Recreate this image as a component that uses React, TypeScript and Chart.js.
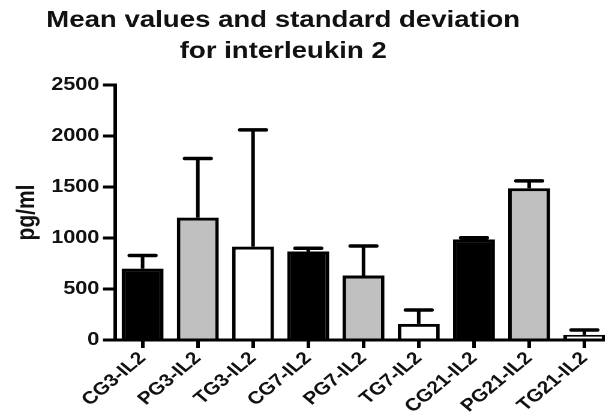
import React, { useEffect, useRef } from "react";
import { Chart, registerables } from "chart.js";

Chart.register(...registerables);

const categories = ["CG3-IL2", "PG3-IL2", "TG3-IL2", "CG7-IL2", "PG7-IL2", "TG7-IL2", "CG21-IL2", "PG21-IL2", "TG21-IL2"];
const means = [700, 1200, 915, 868, 632, 158, 987, 1488, 50];
const sds = [128, 580, 1145, 32, 290, 136, 16, 72, 48];
const fills = ["#000000", "#c0c0c0", "#ffffff", "#000000", "#c0c0c0", "#ffffff", "#000000", "#c0c0c0", "#ffffff"];
const titleLines = ["Mean values and standard deviation", "for interleukin 2"];
const yAxisTitle = "pg/ml";
const yMin = 0;
const yMax = 2500;
const yStep = 500;

const STRETCH = 1.2;
const FONT = "'Liberation Sans', Arial, sans-serif";

const errorBarPlugin = {
  id: "errorBars",
  afterDatasetsDraw(chart: any) {
    const ctx = chart.ctx;
    const meta = chart.getDatasetMeta(0);
    const y = chart.scales.y;
    ctx.save();
    ctx.strokeStyle = "#000";
    meta.data.forEach((bar: any, i: number) => {
      const x = bar.x;
      const base = y.getPixelForValue(means[i]);
      const top = y.getPixelForValue(means[i] + sds[i]);
      const half = bar.width * 0.31;
      ctx.lineWidth = 3;
      ctx.lineCap = "butt";
      ctx.beginPath();
      ctx.moveTo(x, base);
      ctx.lineTo(x, top);
      ctx.stroke();
      ctx.lineWidth = 3.5;
      ctx.lineCap = "round";
      ctx.beginPath();
      ctx.moveTo(x - half, top);
      ctx.lineTo(x + half, top);
      ctx.stroke();
    });
    ctx.restore();
  },
};

const titlePlugin = {
  id: "twoLineTitle",
  afterDraw(chart: any) {
    const ctx = chart.ctx;
    ctx.save();
    ctx.fillStyle = "#111";
    ctx.font = `bold 23px ${FONT}`;
    ctx.textAlign = "center";
    ctx.textBaseline = "alphabetic";
    const cx = 236;
    ctx.fillText(titleLines[0], cx, 27);
    ctx.fillText(titleLines[1], cx, 58);
    ctx.restore();
  },
};

export default function App() {
  const ref = useRef<HTMLCanvasElement | null>(null);
  useEffect(() => {
    if (!ref.current) return;
    const chart = new Chart(ref.current, {
      type: "bar",
      data: {
        labels: categories,
        datasets: [
          {
            data: means,
            backgroundColor: fills,
            borderColor: "#000",
            borderWidth: 3,
            categoryPercentage: 1,
            barPercentage: 0.76,
          },
        ],
      },
      options: {
        animation: false,
        responsive: false,
        devicePixelRatio: 2,
        layout: { padding: { top: 85, left: 0, right: 0, bottom: 0 } },
        plugins: {
          legend: { display: false },
          title: { display: false },
          tooltip: { enabled: false },
        },
        scales: {
          x: {
            grid: {
              display: true,
              drawOnChartArea: false,
              drawTicks: true,
              offset: false,
              tickLength: 8,
              tickWidth: 3,
              tickColor: "#000",
              lineWidth: 3,
              color: "#000",
            },
            border: { display: true, color: "#000", width: 3 },
            ticks: {
              color: "#111",
              font: { family: FONT, weight: "bold", size: 17.5 },
              minRotation: 45,
              maxRotation: 45,
              padding: 0,
              autoSkip: false,
            },
            afterFit(scale: any) {
              scale.height = 76;
            },
          },
          y: {
            min: yMin,
            max: yMax,
            ticks: {
              stepSize: yStep,
              color: "#111",
              padding: 3,
              font: { family: FONT, weight: "bold", size: 18 },
              callback: (v: any) => String(v),
            },
            grid: {
              display: true,
              drawOnChartArea: false,
              drawTicks: true,
              tickLength: 10,
              tickWidth: 3,
              tickColor: "#000",
              lineWidth: 3,
              color: "#000",
            },
            border: { display: true, color: "#000", width: 3 },
            title: {
              display: true,
              text: yAxisTitle,
              color: "#111",
              font: { family: FONT, weight: "bold", size: 21 },
              padding: { top: 10, bottom: 0 },
            },
            afterFit(scale: any) {
              scale.width = 95.8;
            },
          },
        },
      },
      plugins: [errorBarPlugin, titlePlugin],
    });
    return () => chart.destroy();
  }, []);

  return (
    <div style={{ position: "absolute", left: 0, top: 0, width: 605, height: 416, overflow: "hidden", background: "#fff" }}>
      <div style={{ position: "absolute", left: 0, top: 0, width: 510, height: 416, transform: `scaleX(${STRETCH})`, transformOrigin: "0 0" }}>
        <canvas ref={ref} width={510} height={416} style={{ width: 510, height: 416, display: "block" }} />
      </div>
    </div>
  );
}
